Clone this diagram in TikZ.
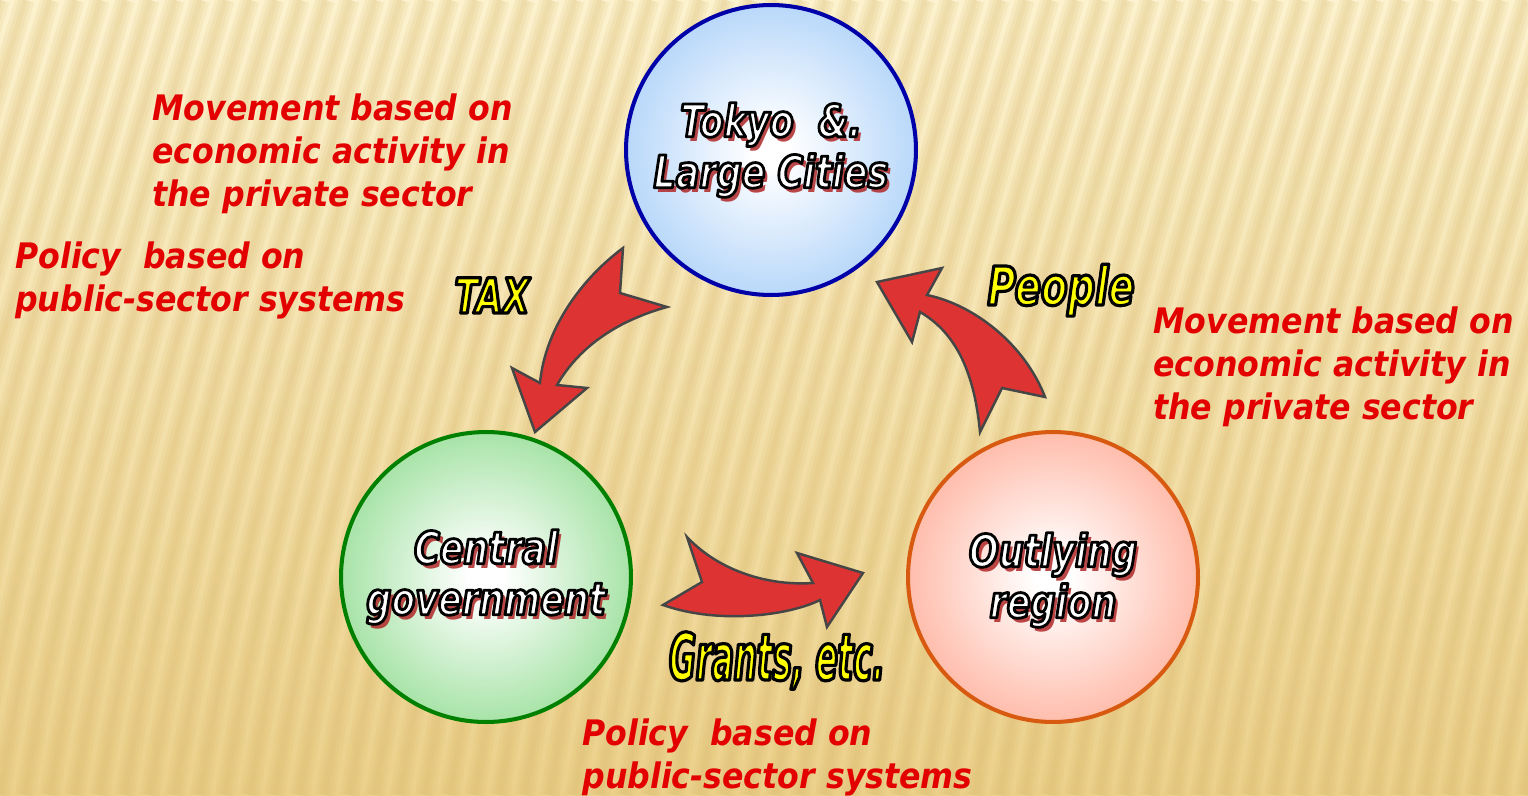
\documentclass[tikz,border=0pt]{standalone}
\usepackage{fontspec}
\usetikzlibrary{calc, positioning}

\setmainfont{DejaVu Sans}
\newfontfamily\notefont[FakeStretch=0.9]{DejaVu Sans}
\newfontfamily\hubfont[FakeStretch=0.78]{DejaVu Sans}
\newfontfamily\tagfont[FakeStretch=0.72]{DejaVu Sans}
\newfontfamily\grantfont[FakeStretch=0.5]{DejaVu Sans}

% outlined text: fill in the current colour, black stroke round the glyphs
\newcommand\outlined[2]{\special{pdf:code 0 0 0 RG #1 w 1 j 2 Tr}#2\special{pdf:code 0 Tr}}

\definecolor{bgtop}{HTML}{FCF2CE}
\definecolor{bgbot}{HTML}{EBD08A}
\definecolor{stripegold}{HTML}{D6B264}
\definecolor{notered}{HTML}{E20000}
\definecolor{arrowred}{HTML}{DD3333}
\definecolor{tagyellow}{HTML}{FFFF00}
\definecolor{shadowred}{HTML}{B02828}
\definecolor{tokyoedge}{HTML}{0000A8}
\definecolor{tokyofill}{HTML}{9CC8F8}
\definecolor{centraledge}{HTML}{008000}
\definecolor{centralfill}{HTML}{84D884}
\definecolor{outedge}{HTML}{D85A10}
\definecolor{outfill}{HTML}{FFA28A}

\pgfdeclareradialshading{tokyoglow}{\pgfpoint{0bp}{0bp}}{color(0bp)=(white); color(3bp)=(white); color(34bp)=(tokyofill); color(50bp)=(tokyofill)}
\pgfdeclareradialshading{centralglow}{\pgfpoint{0bp}{0bp}}{color(0bp)=(white); color(3bp)=(white); color(34bp)=(centralfill); color(50bp)=(centralfill)}
\pgfdeclareradialshading{outglow}{\pgfpoint{0bp}{0bp}}{color(0bp)=(white); color(3bp)=(white); color(34bp)=(outfill); color(50bp)=(outfill)}

\begin{document}
\begin{tikzpicture}[
    x=0.02cm, y=-0.02cm,
    hub/.style={
        circle,
        minimum size=5.8cm,
        line width=2.3pt,
        shade
    },
    hubtext/.style={
        font=\hubfont\bfseries\itshape\fontsize{25.5}{29}\selectfont,
        text=white,
        align=center,
        inner sep=0pt
    },
    hubshadow/.style={
        hubtext,
        text=shadowred,
        text opacity=0.85
    },
    note/.style={
        font=\notefont\bfseries\itshape\fontsize{20}{24.5}\selectfont,
        text=notered,
        align=left,
        anchor=north west,
        inner sep=0pt
    },
    tag/.style={
        text=tagyellow,
        anchor=base,
        inner sep=0pt
    },
    flow/.style={
        fill=arrowred,
        draw=gray!55!black,
        line width=1.4pt,
        line join=miter
    },
    stripe/.style={
        draw=stripegold,
        line width=#1,
        opacity=0.12
    }
]

    \useasboundingbox (0,0) rectangle (1528,795);

    % Background
    \begin{scope}
        \clip (0,0) rectangle (1528,795);
        \shade[top color=bgtop, bottom color=bgbot] (0,0) rectangle (1528,795);
        \foreach \s in {0,25,...,1800} {
            \foreach \w in {11pt,7pt,3pt}
                \draw[stripe=\w] (\s,0) .. controls (\s-80,270) and (\s-160,540) .. (\s-200,795);
        }
    \end{scope}

    % Circles
    \node [hub, draw=tokyoedge, shading=tokyoglow] (tokyo) at (771,150) {};
    \node [hub, draw=centraledge, shading=centralglow] (central) at (486,577) {};
    \node [hub, draw=outedge, shading=outglow] (outlying) at (1053,577) {};

    % Circle labels
    \node [hubshadow] (tokyoshadow) at ($(tokyo)+(4,5)$) {Tokyo\ \ \&.\\Large Cities};
    \node [hubtext] (tokyolabel) at (tokyo) {\outlined{1.6}{Tokyo\ \ \&.\\Large Cities}};
    \node [hubshadow] (centralshadow) at ($(central)+(4,5)$) {Central\\government};
    \node [hubtext] (centrallabel) at (central) {\outlined{1.6}{Central\\government}};
    \node [hubshadow] (outshadow) at ($(outlying)+(4,8)$) {Outlying\\region};
    \node [hubtext] (outlabel) at ($(outlying)+(0,3)$) {\outlined{1.6}{Outlying\\region}};

    % Arrows
    \draw [flow] (623,248) -- (620,293) -- (667,307)
        .. controls (620,320) and (580,345) .. (557,385)
        -- (587,388) -- (535,432) -- (512,368) -- (540,383)
        .. controls (545,330) and (580,280) .. cycle;
    \draw [flow] (877,282) -- (942,268) -- (927,295)
        .. controls (975,305) and (1025,345) .. (1045,397)
        -- (1002,388) -- (980,432)
        .. controls (975,380) and (960,335) .. (920,312)
        -- (912,342) -- cycle;
    \draw [flow] (687,537) -- (702,582) -- (663,605)
        .. controls (720,625) and (790,615) .. (820,600)
        -- (827,627) -- (863,573) -- (797,553) -- (813,583)
        .. controls (770,586) and (720,572) .. cycle;

    % Arrow labels
    \node [tag, font=\tagfont\bfseries\itshape\fontsize{27.5}{30}\selectfont] (tax) at (492,313) {\outlined{1.8}{TAX}};
    \node [tag, font=\tagfont\bfseries\itshape\fontsize{30.5}{33}\selectfont] (people) at (1061,305) {\outlined{1.8}{People}};
    \node [tag, font=\grantfont\bfseries\itshape\fontsize{37}{40}\selectfont] (grants) at (777,680) {\outlined{1.8}{Grants, etc.}};

    % Notes
    \node [note] (movetop) at (152,93) {Movement based on\\economic activity in\\the private sector};
    \node [note] (policyleft) at (15,241) {Policy\ \ based on\\public-sector systems};
    \node [note] (moveright) at (1153,306) {Movement based on\\economic activity in\\the private sector};
    \node [note] (policybottom) at (582,718) {Policy\ \ based on\\public-sector systems};

\end{tikzpicture}
\end{document}
